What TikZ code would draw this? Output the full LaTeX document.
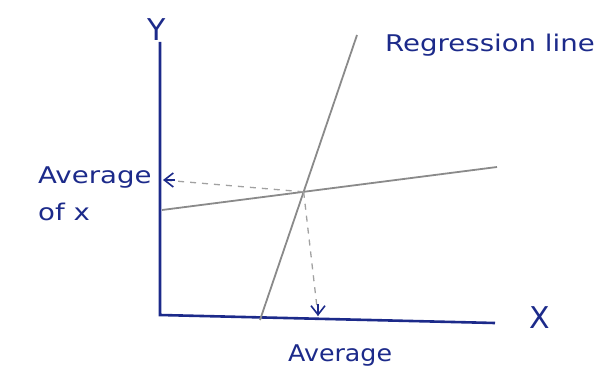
\documentclass[tikz,border=0pt]{standalone}
\usepackage{fontspec}
\setmainfont{DejaVu Sans}
\usetikzlibrary{arrows.meta,calc}
\definecolor{ink}{HTML}{1C2A8A}
\definecolor{pencil}{HTML}{8A8A8A}
\tikzset{
  axis/.style={draw=ink, line width=2.6pt},
  guide/.style={draw=pencil, line width=1.8pt},
  helper/.style={draw=pencil!80, line width=1.3pt, dash pattern=on 6pt off 6pt},
  lbl/.style={text=ink, font=\fontsize{23}{26}\selectfont, inner sep=0pt},
  big/.style={text=ink, font=\fontsize{30}{32}\selectfont, inner sep=0pt},
  tip/.style={-{Straight Barb[length=9pt,width=14pt,line width=1.6pt]}},
}
\begin{document}
\begin{tikzpicture}[x=1pt,y=-1pt]
\useasboundingbox (0,0) rectangle (609,382);
% axes
\coordinate (ytop) at (160,42);
\coordinate (O) at (160,315);
\coordinate (xend) at (495,323);
\draw[axis] (ytop) -- (O) -- (xend);
\node[big] (ylab) at (157,30) {Y};
\node[big] (xlab) at (540,318) {X};
% lines
\coordinate (r1) at (260,320);
\coordinate (r2) at (357,35);
\coordinate (f1) at (162,210);
\coordinate (f2) at (497,167);
\draw[guide] (r1) -- (r2);
\draw[guide] (f1) -- (f2);
\coordinate (P) at (intersection of r1--r2 and f1--f2);
\coordinate (yA) at (163,180);
\coordinate (xA) at (318,316);
\draw[helper] (P) -- (yA);
\draw[ink, line width=1.8pt, tip] ($(yA)+(12,0)$) -- (yA);
\draw[helper] (P) -- (xA);
\draw[ink, line width=1.4pt, tip] ($(xA)+(0,-12)$) -- (xA);
% labels
\node[lbl, anchor=west] (reg) at (385,45) {\scalebox{1.2}[1]{Regression line}};
\node[lbl, anchor=west] (avgy) at (38,178) {\scalebox{1.2}[1]{Average}};
\node[lbl, anchor=west] (ofx) at (38,212) {\scalebox{1.2}[1]{of x}};
\node[lbl, anchor=west] (avgx) at (288,356) {\scalebox{1.1}[1]{Average}};
\end{tikzpicture}
\end{document}
